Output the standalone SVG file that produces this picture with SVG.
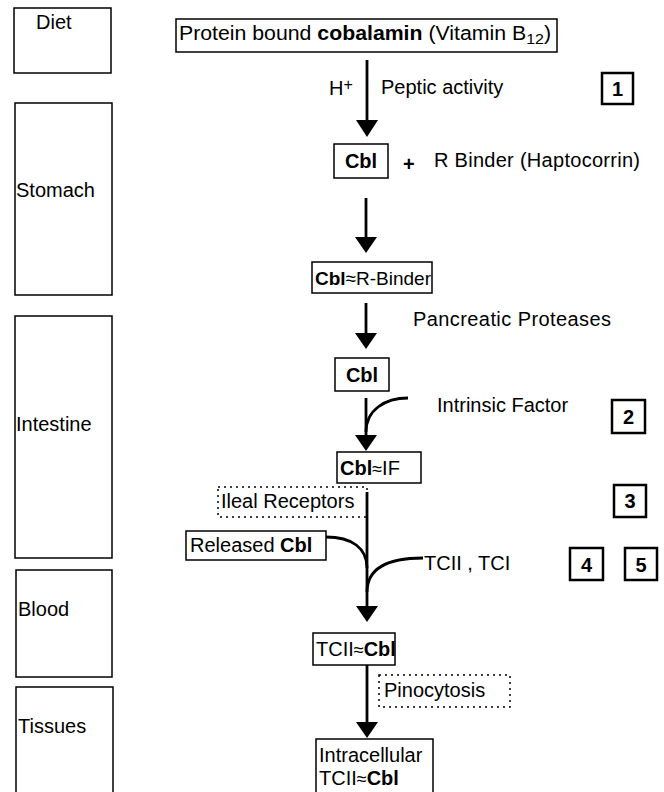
<svg xmlns="http://www.w3.org/2000/svg" width="664" height="792" viewBox="0 0 664 792">
<style>
text{font-family:"Liberation Sans",Arial,sans-serif;font-size:20px;fill:#000}
.b{font-weight:bold}
.box{fill:#fff;stroke:#000;stroke-width:1.5}
.zone{fill:#fff;stroke:#000;stroke-width:1.5}
.dash{fill:none;stroke:#000;stroke-width:1.5;stroke-dasharray:2 4}
.num{fill:#fff;stroke:#000;stroke-width:2.5}
.ln{fill:none;stroke:#000;stroke-width:2.8}
.ap{font-size:18px}
.sm{font-size:19px}
</style>
<g id="zone-diet"><rect class="zone" x="14" y="8" width="97" height="65"/><text x="36" y="29">Diet</text></g>
<g id="zone-stomach"><rect class="zone" x="15" y="103" width="97" height="192"/><text x="16" y="197">Stomach</text></g>
<g id="zone-intestine"><rect class="zone" x="15" y="316" width="97" height="242"/><text x="16" y="431">Intestine</text></g>
<g id="zone-blood"><rect class="zone" x="16" y="570" width="96" height="107"/><text x="18" y="616">Blood</text></g>
<g id="zone-tissues"><rect class="zone" x="16" y="687" width="97" height="110"/><text x="18" y="733">Tissues</text></g>

<g id="connectors">
<path class="ln" d="M367,60 V120"/><path d="M356,120 L378,120 L367,137 Z"/>
<path class="ln" d="M366,198 V237"/><path d="M355,237 L377,237 L366,253 Z"/>
<path class="ln" d="M366,303 V333"/><path d="M355,333 L377,333 L366,349 Z"/>
<path class="ln" d="M366,398 V436"/><path class="ln" d="M408,398 C385,398 366,410 366,432"/><path d="M355,435 L377,435 L366,451 Z"/>
<path class="ln" d="M367,492 V607"/>
<path class="ln" d="M326,537 C352,537 367,548 367,568"/>
<path class="ln" d="M423,558 C392,558 367,566 367,592"/>
<path d="M356,606 L378,606 L367,622 Z"/>
<path class="ln" d="M367,665 V723"/><path d="M356,722 L378,722 L367,738 Z"/>
</g>

<g id="n-protein"><rect class="box" x="176" y="19" width="381" height="33"/><text x="179" y="40" textLength="372" lengthAdjust="spacingAndGlyphs">Protein bound <tspan class="b">cobalamin</tspan> (Vitamin B<tspan style="font-size:15px" dy="4">12</tspan><tspan dy="-4">)</tspan></text></g>
<g id="l-hplus"><text x="329" y="95">H<tspan style="font-size:16px" dy="-5">+</tspan></text></g>
<g id="l-peptic"><text x="381" y="94">Peptic activity</text></g>
<g id="num1"><rect class="num" x="602" y="73" width="31" height="31"/><text class="b" x="617.5" y="96" text-anchor="middle">1</text></g>

<g id="n-cbl1"><rect class="box" x="334" y="144" width="54" height="34"/><text class="b" x="361" y="168" text-anchor="middle">Cbl</text></g>
<g id="l-plus"><text class="b" x="403" y="171">+</text></g>
<g id="l-rbinder"><text x="434" y="167" textLength="206">R Binder (Haptocorrin)</text></g>

<g id="n-cblr"><rect class="box" x="312" y="262" width="120" height="31"/><text class="sm" x="315" y="285"><tspan class="b">Cbl</tspan>≈R-Binder</text></g>
<g id="l-pancreatic"><text x="413" y="326" textLength="198">Pancreatic Proteases</text></g>

<g id="n-cbl2"><rect class="box" x="335" y="358" width="54" height="33"/><text class="b" x="362" y="382" text-anchor="middle">Cbl</text></g>
<g id="l-if"><text x="437" y="412">Intrinsic Factor</text></g>
<g id="num2"><rect class="num" x="612" y="400" width="33" height="33"/><text class="b" x="628.5" y="424" text-anchor="middle">2</text></g>

<g id="n-cblif"><rect class="box" x="337" y="452" width="84" height="31"/><text x="340" y="475"><tspan class="b">Cbl</tspan><tspan class="ap">≈</tspan>IF</text></g>
<g id="n-ileal"><rect class="dash" x="218" y="487" width="149" height="30"/><text x="221" y="508">Ileal Receptors</text></g>
<g id="num3"><rect class="num" x="614" y="485" width="32" height="32"/><text class="b" x="630" y="508" text-anchor="middle">3</text></g>

<g id="n-released"><rect class="box" x="186" y="531" width="140" height="29"/><text x="190" y="552">Released <tspan class="b">Cbl</tspan></text></g>
<g id="l-tc"><text x="424" y="570">TCII , TCI</text></g>
<g id="num4"><rect class="num" x="570" y="548" width="33" height="32"/><text class="b" x="586.5" y="572" text-anchor="middle">4</text></g>
<g id="num5"><rect class="num" x="625" y="548" width="32" height="32"/><text class="b" x="641" y="572" text-anchor="middle">5</text></g>

<g id="n-tcii"><rect class="box" x="313" y="633" width="82" height="32"/><text x="316" y="656">TCII<tspan class="ap">≈</tspan><tspan class="b">Cbl</tspan></text></g>
<g id="n-pino"><rect class="dash" x="379" y="675" width="131" height="32"/><text x="384" y="697">Pinocytosis</text></g>

<g id="n-intra"><rect class="box" x="316" y="739" width="117" height="60"/><text x="319" y="762">Intracellular</text><text x="319" y="785">TCII<tspan class="ap">≈</tspan><tspan class="b">Cbl</tspan></text></g>
</svg>
